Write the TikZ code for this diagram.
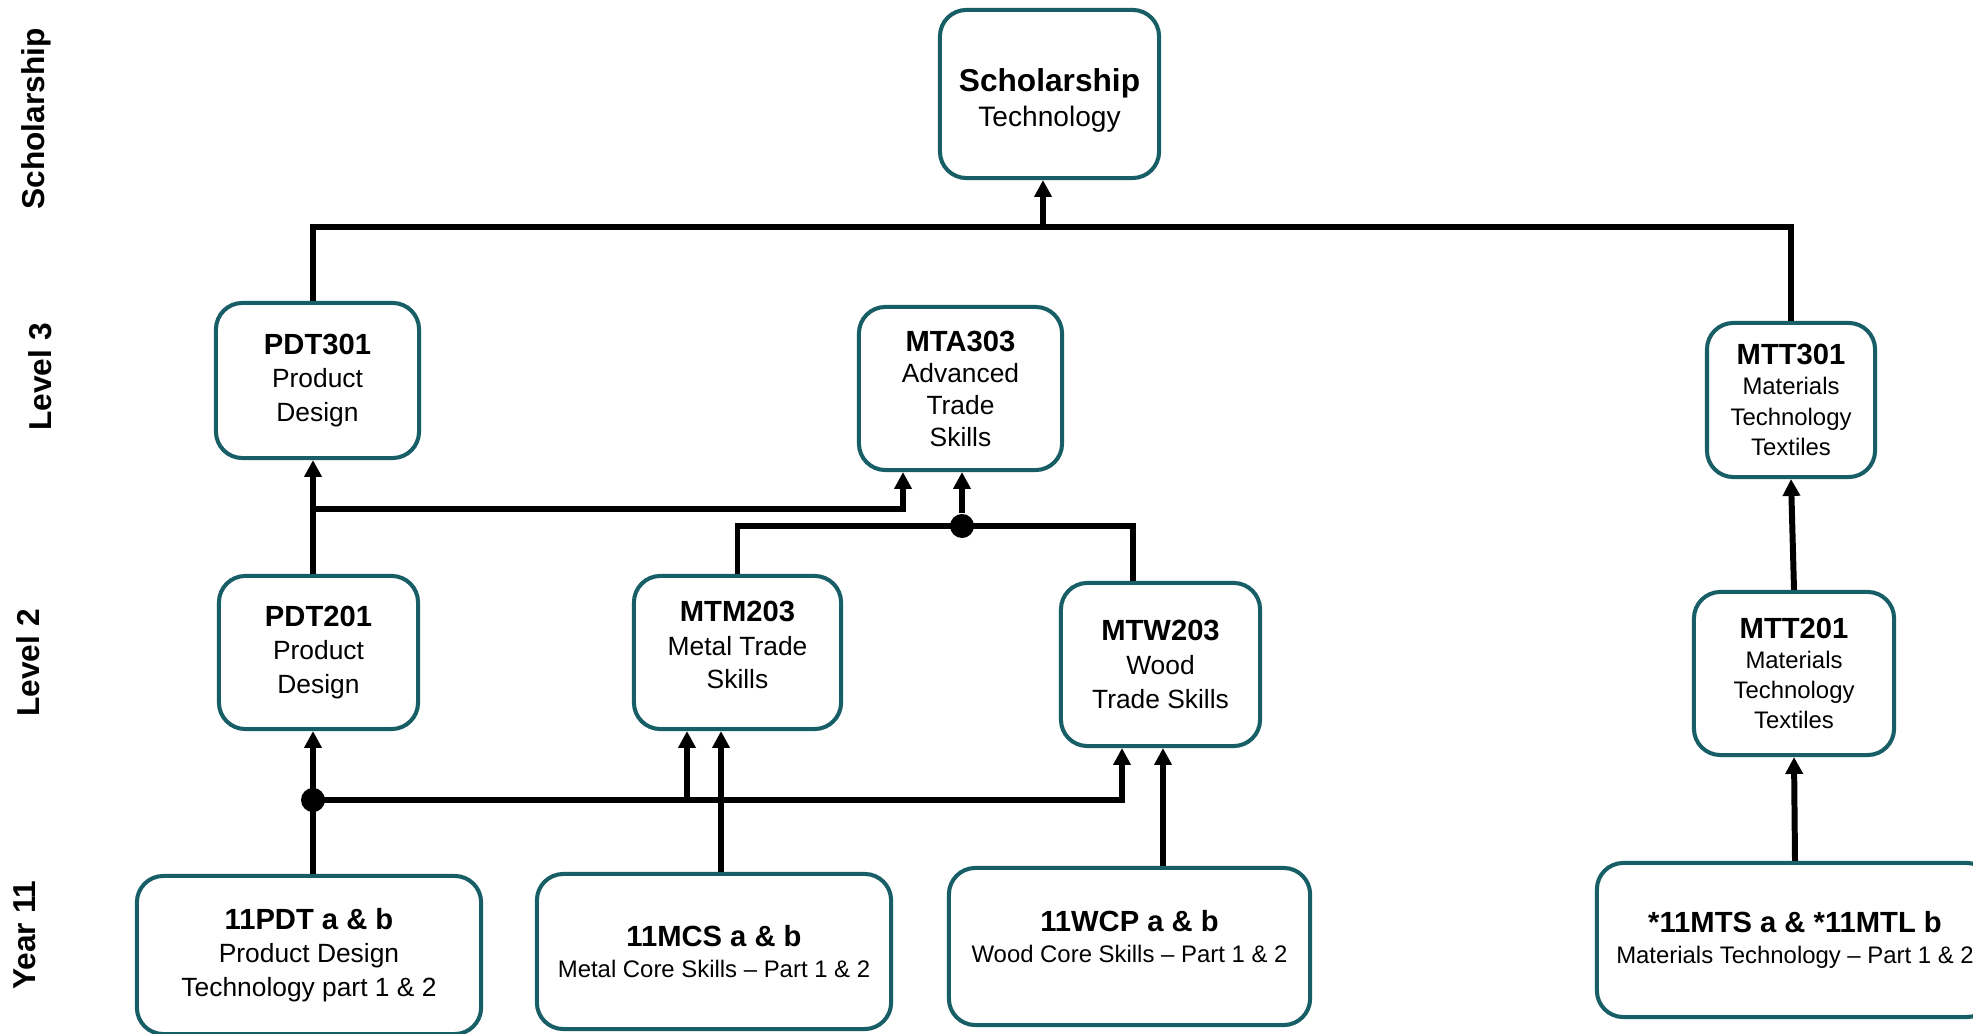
\documentclass[tikz,border=0pt]{standalone}
\usepackage{fontspec}
\setmainfont{Liberation Sans}
\usetikzlibrary{arrows.meta}
\definecolor{boxteal}{HTML}{175E66}
\newcommand{\ctitle}[1]{{\fontsize{8.3}{9.6}\selectfont\bfseries #1}}
\tikzset{
  box/.style={draw=boxteal, line width=1.15pt, rounded corners=7.5pt, align=center, inner sep=0pt, fill=white},
  txt/.style={font=\fontsize{7.5}{9.6}\selectfont},
  small/.style={font=\fontsize{6.8}{8.6}\selectfont},
  side/.style={font=\fontsize{9}{11}\selectfont\bfseries, rotate=90},
  link/.style={line width=1.5pt},
  uplink/.style={line width=1.5pt, -{Triangle[length=4.8pt,width=4.8pt]}},
  dot/.style={circle, fill=black, inner sep=0pt, minimum size=0.24cm}
}
\begin{document}
\begin{tikzpicture}[x=0.01cm, y=-0.01cm]
\useasboundingbox (0,0) rectangle (1973,1034);
\clip (0,0) rectangle (1973,1034);
\node[side] (lsch) at (36,119) {Scholarship};
\node[side] (l3) at (40,377) {Level 3};
\node[side] (l2) at (28,663) {Level 2};
\node[side] (y11) at (25,935) {Year 11};
\node[box, font=\fontsize{8}{9.8}\selectfont, text height=0.70cm, minimum width=2.19cm, minimum height=1.68cm] (schol) at (1049.5,94) {{\fontsize{9}{9.8}\selectfont\bfseries Scholarship}\\Technology};
\node[box, txt, minimum width=2.03cm, minimum height=1.55cm] (pdt3) at (317.5,380.5) {\ctitle{PDT301}\\Product\\Design};
\node[box, font=\fontsize{7.5}{9}\selectfont, minimum width=2.03cm, minimum height=1.63cm] (mta3) at (960.5,388.5) {\ctitle{MTA303}\\Advanced\\Trade\\Skills};
\node[box, small, minimum width=1.68cm, minimum height=1.54cm] (mtt3) at (1791,400) {\ctitle{MTT301}\\Materials\\Technology\\Textiles};
\node[box, txt, minimum width=1.99cm, minimum height=1.53cm] (pdt2) at (318.5,652.5) {\ctitle{PDT201}\\Product\\Design};
\node[box, txt, text depth=0.15cm, minimum width=2.07cm, minimum height=1.53cm] (mtm2) at (737.5,652.5) {\ctitle{MTM203}\\Metal Trade\\Skills};
\node[box, txt, minimum width=1.99cm, minimum height=1.63cm] (mtw2) at (1160.5,664.5) {\ctitle{MTW203}\\Wood\\Trade Skills};
\node[box, small, minimum width=2.00cm, minimum height=1.63cm] (mtt2) at (1794,673.5) {\ctitle{MTT201}\\Materials\\Technology\\Textiles};
\node[box, txt, minimum width=3.44cm, minimum height=1.58cm] (pdt11) at (309,955) {\ctitle{11PDT a \& b}\\Product Design\\Technology part 1 \& 2};
\node[box, small, minimum width=3.54cm, minimum height=1.55cm] (mcs11) at (714,951.5) {\ctitle{11MCS a \& b}\\Metal Core Skills -- Part 1 \& 2};
\node[box, small, text depth=0.2cm, minimum width=3.61cm, minimum height=1.57cm] (wcp11) at (1129.5,946.5) {\ctitle{11WCP a \& b}\\Wood Core Skills -- Part 1 \& 2};
\node[box, small, minimum width=3.96cm, minimum height=1.54cm] (mts11) at (1795,940) {\ctitle{*11MTS a \& *11MTL b}\\Materials Technology -- Part 1 \& 2};
\node[dot] (j3) at (962,526) {};
\node[dot] (j2) at (313,800) {};
\coordinate (s3) at (1043,227);
\coordinate (a3) at (903,509);
\coordinate (w3) at (1133,526);
\coordinate (w2) at (1122,800);
\coordinate (m2) at (687,800);
\coordinate (c2) at (721,800);
\coordinate (d2) at (1163,800);
\path[draw,link,line width=1.7pt] (j2 |- pdt3.north) |- (s3) -| (mtt3.north);
\path[draw,uplink,line width=1.7pt] (s3) -- (s3 |- schol.south);
\path[draw,uplink] (j2 |- pdt2.north) -- (j2 |- pdt3.south);
\path[draw,uplink] (j2 |- a3) -- (a3) -- (a3 |- mta3.south);
\path[draw,link] (mtm2.north) |- (j3.center) -- (w3) -- (w3 |- mtw2.north);
\path[draw,uplink] (j3) -- (j3 |- mta3.south);
\path[draw,uplink] (j2 |- pdt11.north) -- (j2 |- pdt2.south);
\path[draw,uplink] (j2.center) -- (w2) -- (w2 |- mtw2.south);
\path[draw,uplink] (m2) -- (m2 |- mtm2.south);
\path[draw,uplink] (c2 |- mcs11.north) -- (c2 |- mtm2.south);
\path[draw,uplink] (d2 |- wcp11.north) -- (d2 |- mtw2.south);
\path[draw,uplink,line width=1.7pt] (mtt2.north) -- (mtt3.south);
\path[draw,uplink,line width=1.7pt] (mts11.north) -- (mtt2.south);
\end{tikzpicture}
\end{document}
